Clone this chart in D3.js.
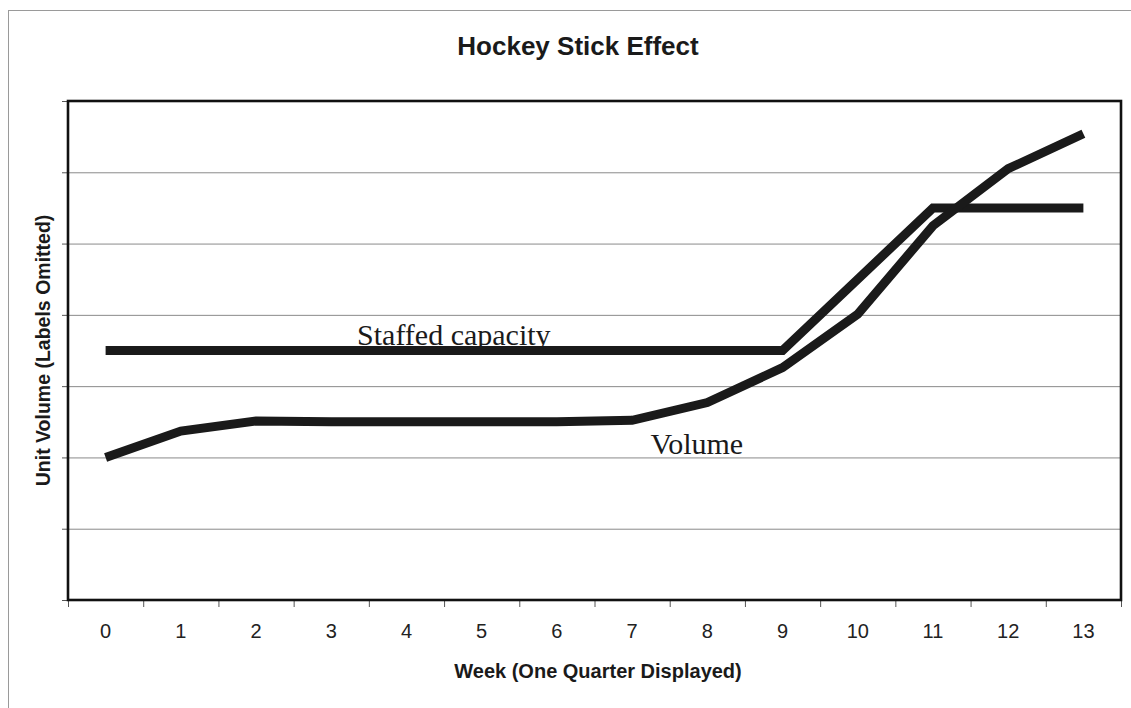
<!DOCTYPE html>
<html>
<head>
<meta charset="utf-8">
<script src="https://cdn.jsdelivr.net/npm/d3@7/dist/d3.min.js"></script>
<style>
  html, body { margin: 0; padding: 0; background: #fff; }
  svg { display: block; }
</style>
</head>
<body>
<svg id="chart" width="1131" height="708"></svg>
<script>
// ---- data ----
const weeks = [0, 1, 2, 3, 4, 5, 6, 7, 8, 9, 10, 11, 12, 13];
const staffedCapacity = [3.5, 3.5, 3.5, 3.5, 3.5, 3.5, 3.5, 3.5, 3.5, 3.5, 4.5, 5.5, 5.5, 5.5];
const volume = [2.0, 2.37, 2.51, 2.5, 2.5, 2.5, 2.5, 2.52, 2.77, 3.26, 4.01, 5.25, 6.05, 6.54];
const yTicks = [0, 1, 2, 3, 4, 5, 6, 7];
const titleText = "Hockey Stick Effect";
const xTitle = "Week (One Quarter Displayed)";
const yTitle = "Unit Volume (Labels Omitted)";
// label anchors in data units (week position of text centre, value of text baseline)
const labelNames = ["Staffed capacity", "Volume"];
const labelWeeks = [4.63, 7.86];
const labelValues = [3.58, 2.05];

// ---- layout ----
const svg = d3.select("#chart");
const W = 1131, H = 708;
const plot = { left: 68, right: 1121, top: 101, bottom: 600 };

// outer chart frame
svg.append("rect").attr("x", 8.5).attr("y", 10.5).attr("width", W + 10).attr("height", H + 10)
  .attr("fill", "#fff").attr("stroke", "#9a9a9a").attr("stroke-width", 1);

const x = d3.scaleBand().domain(weeks).range([plot.left, plot.right]).padding(0);
const xEdge = d3.scaleLinear().domain([0, weeks.length]).range([plot.left, plot.right]);
const y = d3.scaleLinear().domain([0, 7]).range([plot.bottom, plot.top]);
const cx = d => x(d) + x.bandwidth() / 2;

// gridlines
svg.append("g")
  .attr("transform", `translate(${plot.left},0)`)
  .call(d3.axisLeft(y).tickValues(yTicks).tickSize(-(plot.right - plot.left)).tickFormat(""))
  .call(g => g.select(".domain").remove())
  .call(g => g.selectAll(".tick line").attr("stroke", "#8a8a8a").attr("stroke-width", 1));

// y tick marks (outside)
svg.append("g")
  .attr("transform", `translate(${plot.left},0)`)
  .call(d3.axisLeft(y).tickValues(yTicks).tickSize(6).tickFormat(""))
  .call(g => g.select(".domain").remove())
  .call(g => g.selectAll(".tick line").attr("stroke", "#555").attr("stroke-width", 1));

// x tick marks at category boundaries
svg.append("g")
  .attr("transform", `translate(0,${plot.bottom})`)
  .call(d3.axisBottom(xEdge).tickValues(d3.range(0, weeks.length + 1)).tickSize(7).tickFormat(""))
  .call(g => g.select(".domain").remove())
  .call(g => g.selectAll(".tick line").attr("stroke", "#555").attr("stroke-width", 1));

// x category labels
svg.append("g")
  .attr("transform", `translate(0,${plot.bottom})`)
  .call(d3.axisBottom(x).tickSize(0).tickPadding(24))
  .call(g => g.select(".domain").remove())
  .call(g => g.selectAll("text")
    .attr("font-family", "Liberation Sans, Arial, sans-serif")
    .attr("font-size", 20).attr("fill", "#222"));

// plot border
svg.append("rect")
  .attr("x", plot.left).attr("y", plot.top)
  .attr("width", plot.right - plot.left).attr("height", plot.bottom - plot.top)
  .attr("fill", "none").attr("stroke", "#111").attr("stroke-width", 2.6);

// lines
const line = d3.line().x((d, i) => cx(weeks[i])).y(d => y(d));
[staffedCapacity, volume].forEach(s => {
  svg.append("path").datum(s).attr("d", line)
    .attr("fill", "none").attr("stroke", "#1a1a1a")
    .attr("stroke-width", 9).attr("stroke-linejoin", "miter").attr("stroke-linecap", "butt");
});

// series labels
svg.selectAll(".slabel").data(labelNames).enter().append("text")
  .attr("class", "slabel")
  .attr("x", (d, i) => xEdge(labelWeeks[i] + 0.5))
  .attr("y", (d, i) => y(labelValues[i]))
  .attr("text-anchor", "middle")
  .attr("font-family", "Liberation Serif, Times New Roman, serif")
  .attr("font-size", 30).attr("fill", "#1a1a1a")
  .text(d => d);

// titles
svg.append("text").attr("x", 578).attr("y", 55).attr("text-anchor", "middle")
  .attr("font-family", "Liberation Sans, Arial, sans-serif").attr("font-weight", "bold")
  .attr("font-size", 26).attr("fill", "#1a1a1a").text(titleText);

svg.append("text").attr("x", 598).attr("y", 678).attr("text-anchor", "middle")
  .attr("font-family", "Liberation Sans, Arial, sans-serif").attr("font-weight", "bold")
  .attr("font-size", 20).attr("fill", "#1a1a1a").text(xTitle);

svg.append("text")
  .attr("transform", `translate(50,${(plot.top + plot.bottom) / 2}) rotate(-90)`)
  .attr("text-anchor", "middle")
  .attr("font-family", "Liberation Sans, Arial, sans-serif").attr("font-weight", "bold")
  .attr("font-size", 19.5).attr("fill", "#1a1a1a").text(yTitle);
</script>
</body>
</html>
